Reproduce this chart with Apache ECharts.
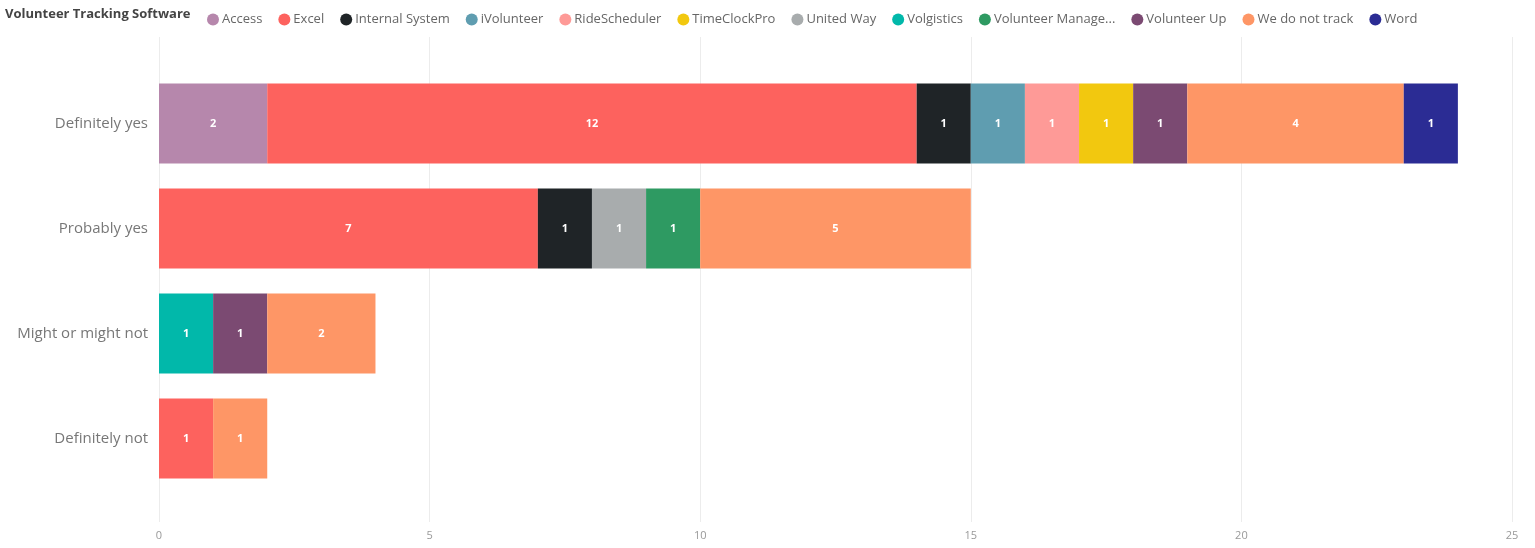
<!DOCTYPE html>
<html lang="en" style="height: 100%">

<head>
    <meta charset="UTF-8">
    <title>Volunteer Tracking Software</title>
    <script src="https://cdn.jsdelivr.net/npm/echarts@6/dist/echarts.min.js"></script>
</head>

<body style="height: 100%; margin: 0; background: #fff">
    <div id="main" style="width: 1535px; height: 548px"></div>
    <script>
        // categories (top to bottom)
        var answers = ['Definitely yes', 'Probably yes', 'Might or might not', 'Definitely not'];
        var software = ['Access', 'Excel', 'Internal System', 'iVolunteer', 'RideScheduler', 'TimeClockPro',
            'United Way', 'Volgistics', 'Volunteer Manage...', 'Volunteer Up', 'We do not track', 'Word'];
        var colors = ['#B687AC', '#FD625E', '#1F2427', '#5F9DB0', '#FE9A97', '#F2C80F',
            '#A8ACAD', '#01B8AA', '#2E9A62', '#7B4A72', '#FE9666', '#2B2C94'];
        // one row per software, one value per answer (null = none)
        var counts = [
            [2, null, null, null],   // Access
            [12, 7, null, 1],        // Excel
            [1, 1, null, null],      // Internal System
            [1, null, null, null],   // iVolunteer
            [1, null, null, null],   // RideScheduler
            [1, null, null, null],   // TimeClockPro
            [null, 1, null, null],   // United Way
            [null, null, 1, null],   // Volgistics
            [null, 1, null, null],   // Volunteer Manage...
            [1, null, 1, null],      // Volunteer Up
            [4, 5, 2, 1],            // We do not track
            [1, null, null, null]    // Word
        ];
        var xTicks = [0, 5, 10, 15, 20, 25];

        var myChart = echarts.init(document.getElementById('main'));
        var font = '"Open Sans", "Noto Sans", sans-serif';

        var series = software.map(function (name, i) {
            return {
                name: name,
                type: 'bar',
                stack: 'total',
                xAxisIndex: 0,
                yAxisIndex: 0,
                barWidth: 80,
                itemStyle: { color: colors[i] },
                label: {
                    show: true,
                    position: 'inside',
                    color: '#fff',
                    fontSize: 11,
                    fontWeight: 'bold',
                    fontFamily: font
                },
                data: counts[i]
            };
        });

        var option = {
            animation: false,
            graphic: [{
                type: 'text',
                left: 5,
                top: 8,
                style: {
                    text: 'Volunteer Tracking Software',
                    fill: '#444',
                    font: 'bold 13px ' + font
                }
            }],
            legend: {
                left: 202,
                top: 8,
                icon: 'circle',
                itemWidth: 12,
                itemHeight: 12,
                itemGap: 16,
                textStyle: { color: '#666', fontSize: 13, fontFamily: font, padding: [0, 0, 0, -2] },
                data: software
            },
            grid: [
                { left: 159, right: 23, top: 71, bottom: 57 },   // bars
                { left: 159, right: 23, top: 37, bottom: 26 }    // gridlines and x labels
            ],
            xAxis: [
                { gridIndex: 0, type: 'value', min: 0, max: 25, interval: 5, show: false },
                {
                    gridIndex: 1, type: 'value', min: xTicks[0], max: xTicks[xTicks.length - 1], interval: 5,
                    axisLine: { show: false },
                    axisTick: { show: false },
                    splitLine: { show: true, lineStyle: { color: '#ececec' } },
                    axisLabel: { color: '#999', fontSize: 11, fontFamily: font, margin: 8 }
                }
            ],
            yAxis: [
                {
                    gridIndex: 0, type: 'category', data: answers, inverse: true,
                    axisLine: { show: false },
                    axisTick: { show: false },
                    axisLabel: { color: '#777', fontSize: 15, fontFamily: font, margin: 11, padding: [4, 0, 0, 0] }
                },
                { gridIndex: 1, type: 'value', show: false }
            ],
            series: series
        };

        myChart.setOption(option);
        window.addEventListener('resize', myChart.resize);
    </script>
</body>

</html>
